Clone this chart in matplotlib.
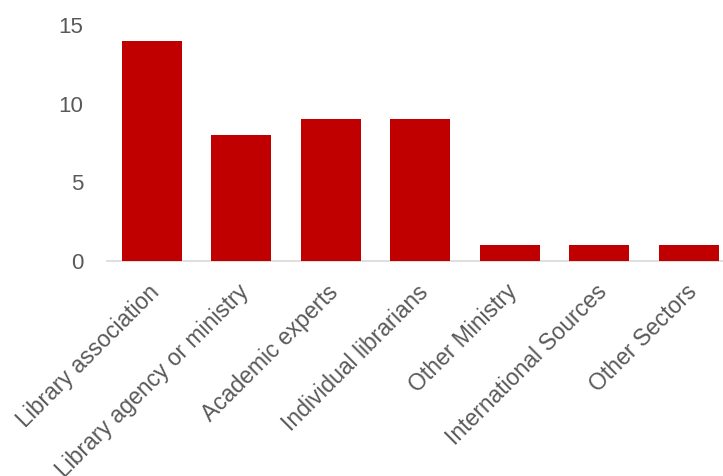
import matplotlib
matplotlib.use("Agg")
import matplotlib.pyplot as plt
import matplotlib.transforms as mtransforms

categories = ["Library association", "Library agency or ministry", "Academic experts",
              "Individual librarians", "Other Ministry", "International Sources", "Other Sectors"]
values = [14, 8, 9, 9, 1, 1, 1]
yticks = [0, 5, 10, 15]

plt.rcParams['font.family'] = ['Liberation Sans', 'DejaVu Sans']
fig = plt.figure(figsize=(7.23, 4.76), dpi=100)
left = 107 / 723
bottom = (476 - 261) / 476
top = (476 - 25) / 476
ax = fig.add_axes([left, bottom, 1 - left, top - bottom])

x = range(len(categories))
ax.bar(x, values, width=0.67, color="#C00000", zorder=3)
ax.set_xlim(-0.5, 6.38)
ax.set_ylim(0, 15)
ax.set_yticks(yticks)
ax.set_yticklabels([str(t) for t in yticks], fontsize=16, color="#595959")
ax.set_xticks(list(x))
ax.set_xticklabels(categories, fontsize=16.5, color="#595959", rotation=45,
                   ha="right", va="top", rotation_mode="anchor")
ax.tick_params(axis="both", length=0)
ax.tick_params(axis="y", pad=17)
ax.tick_params(axis="x", pad=14)
for s in ["top", "right", "left"]:
    ax.spines[s].set_visible(False)
ax.spines["bottom"].set_color("#D9D9D9")
ax.spines["bottom"].set_linewidth(1.2)

offset = mtransforms.ScaledTranslation(-4 / 100, 0, fig.dpi_scale_trans)
for lbl in ax.get_xticklabels():
    lbl.set_transform(lbl.get_transform() + offset)

fig.savefig("out.png", dpi=100)
